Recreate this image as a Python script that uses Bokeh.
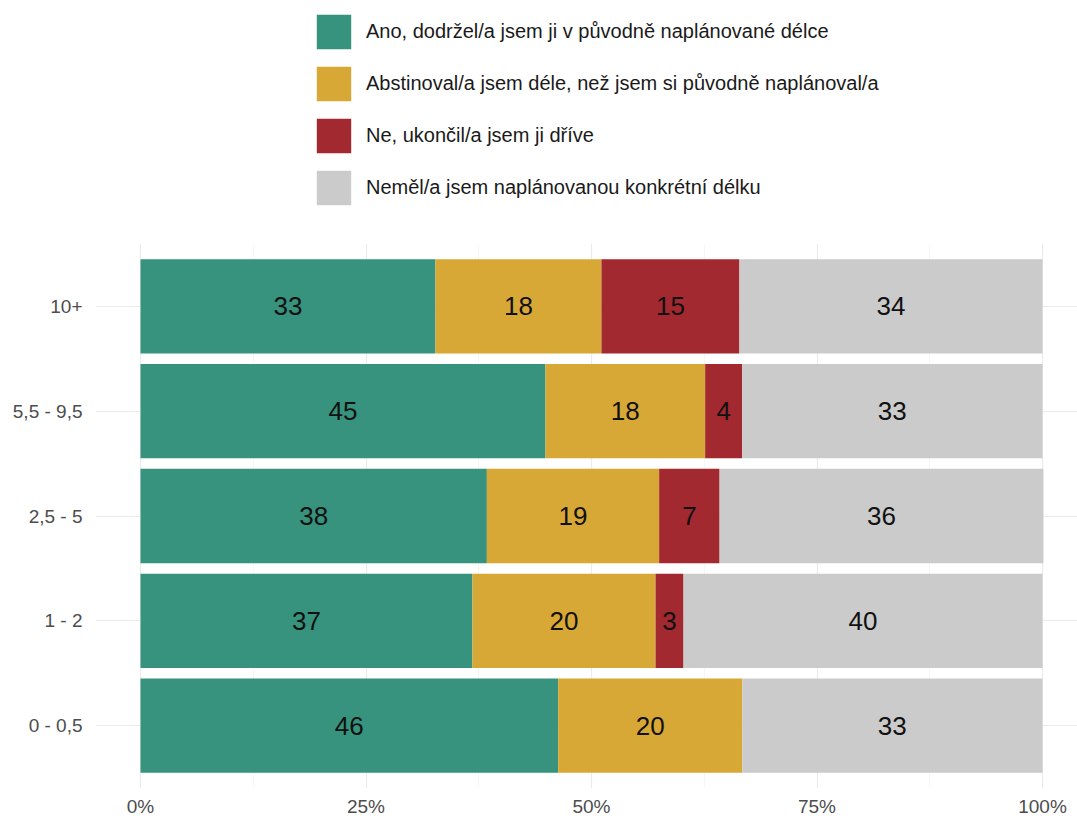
from bokeh.plotting import figure
from bokeh.layouts import column
from bokeh.models import ColumnDataSource, FactorRange, Range1d, FixedTicker, PrintfTickFormatter, Legend, LegendItem
from bokeh.core.properties import value
from bokeh.embed import file_html
from bokeh.resources import INLINE

categories = ["0 - 0,5", "1 - 2", "2,5 - 5", "5,5 - 9,5", "10+"]
ano = [46.3, 36.8, 38.4, 44.9, 32.7]
dele = [20.4, 20.3, 19.1, 17.7, 18.4]
drive = [0.0, 3.1, 6.7, 4.1, 15.3]
nemel = [33.3, 39.8, 35.9, 33.3, 33.6]
series_names = [
    "Ano, dodržel/a jsem ji v původně naplánované délce",
    "Abstinoval/a jsem déle, než jsem si původně naplánoval/a",
    "Ne, ukončil/a jsem ji dříve",
    "Neměl/a jsem naplánovanou konkrétní délku",
]
colors = ["#37937d", "#d8a837", "#a2292f", "#cbcbcb"]
x_ticks = [0, 25, 50, 75, 100]

FONT = "Liberation Sans"
keys = ["ano", "dele", "drive", "nemel"]
series = [ano, dele, drive, nemel]

# ---------- legend figure ----------
top = figure(width=1077, height=243, x_range=Range1d(0, 1), y_range=Range1d(0, 1),
             x_axis_type=None, y_axis_type=None, output_backend="svg", toolbar_location=None,
             min_border_left=0, min_border_right=0, min_border_top=0, min_border_bottom=0)
top.outline_line_color = None
top.grid.visible = False
items = []
for name, col in zip(series_names, colors):
    # placeholder renderer kept outside the visible range; only its legend swatch is shown
    r = top.hbar(y=[-10], left=[0], right=[1], height=0.5, color=col, line_color=None)
    items.append(LegendItem(label=name, renderers=[r]))
leg = Legend(items=items, location=(217, 34), orientation="vertical",
             glyph_width=43, glyph_height=43, label_height=43, spacing=9,
             padding=0, margin=0, label_standoff=11,
             label_text_font=FONT, label_text_font_size="20px", label_text_color="#1a1a1a",
             border_line_color=None, background_fill_alpha=0)
top.add_layout(leg)

# ---------- bar chart ----------
data = {"cat": categories}
for k, s in zip(keys, series):
    data[k] = s
source = ColumnDataSource(data)

p = figure(
    width=1077, height=576,
    y_range=FactorRange(factors=categories, range_padding=0.04),
    x_range=Range1d(-4.99, 103.88),
    output_backend="svg", toolbar_location=None,
    min_border_left=95, min_border_right=0, min_border_top=0, min_border_bottom=24,
)
p.outline_line_color = None
p.background_fill_color = "white"

p.hbar_stack(keys, y="cat", height=0.9, color=colors, source=source, line_color=None)

lx, ly, lt = [], [], []
for i, c in enumerate(categories):
    cum = 0.0
    for s in series:
        v = s[i]
        if v > 0:
            lx.append(cum + v / 2)
            ly.append(c)
            lt.append(str(int(round(v))))
        cum += v
lsrc = ColumnDataSource(dict(x=lx, y=ly, t=lt))
p.text(x="x", y="y", text="t", source=lsrc, text_align="center", text_baseline="middle",
       text_font=value(FONT), text_font_size="26px", text_color="#111111")

p.xaxis.ticker = FixedTicker(ticks=x_ticks, minor_ticks=[12.5, 37.5, 62.5, 87.5])
p.xaxis.formatter = PrintfTickFormatter(format="%d%%")
for ax in [p.xaxis[0], p.yaxis[0]]:
    ax.axis_line_color = None
    ax.major_tick_line_color = None
    ax.minor_tick_line_color = None
    ax.major_label_text_font = FONT
    ax.major_label_text_font_size = "19px"
    ax.major_label_text_color = "#4d4d4d"
p.xaxis.major_label_standoff = 1
p.yaxis.major_label_standoff = 7

p.xgrid.grid_line_color = "#ebebeb"
p.xgrid.grid_line_width = 1.2
p.xgrid.minor_grid_line_color = "#f4f4f4"
p.xgrid.minor_grid_line_width = 0.8
p.ygrid.grid_line_color = "#ebebeb"
p.ygrid.grid_line_width = 1.2

layout = column(top, p, spacing=0)
open("out.html", "w").write(file_html(layout, INLINE))
